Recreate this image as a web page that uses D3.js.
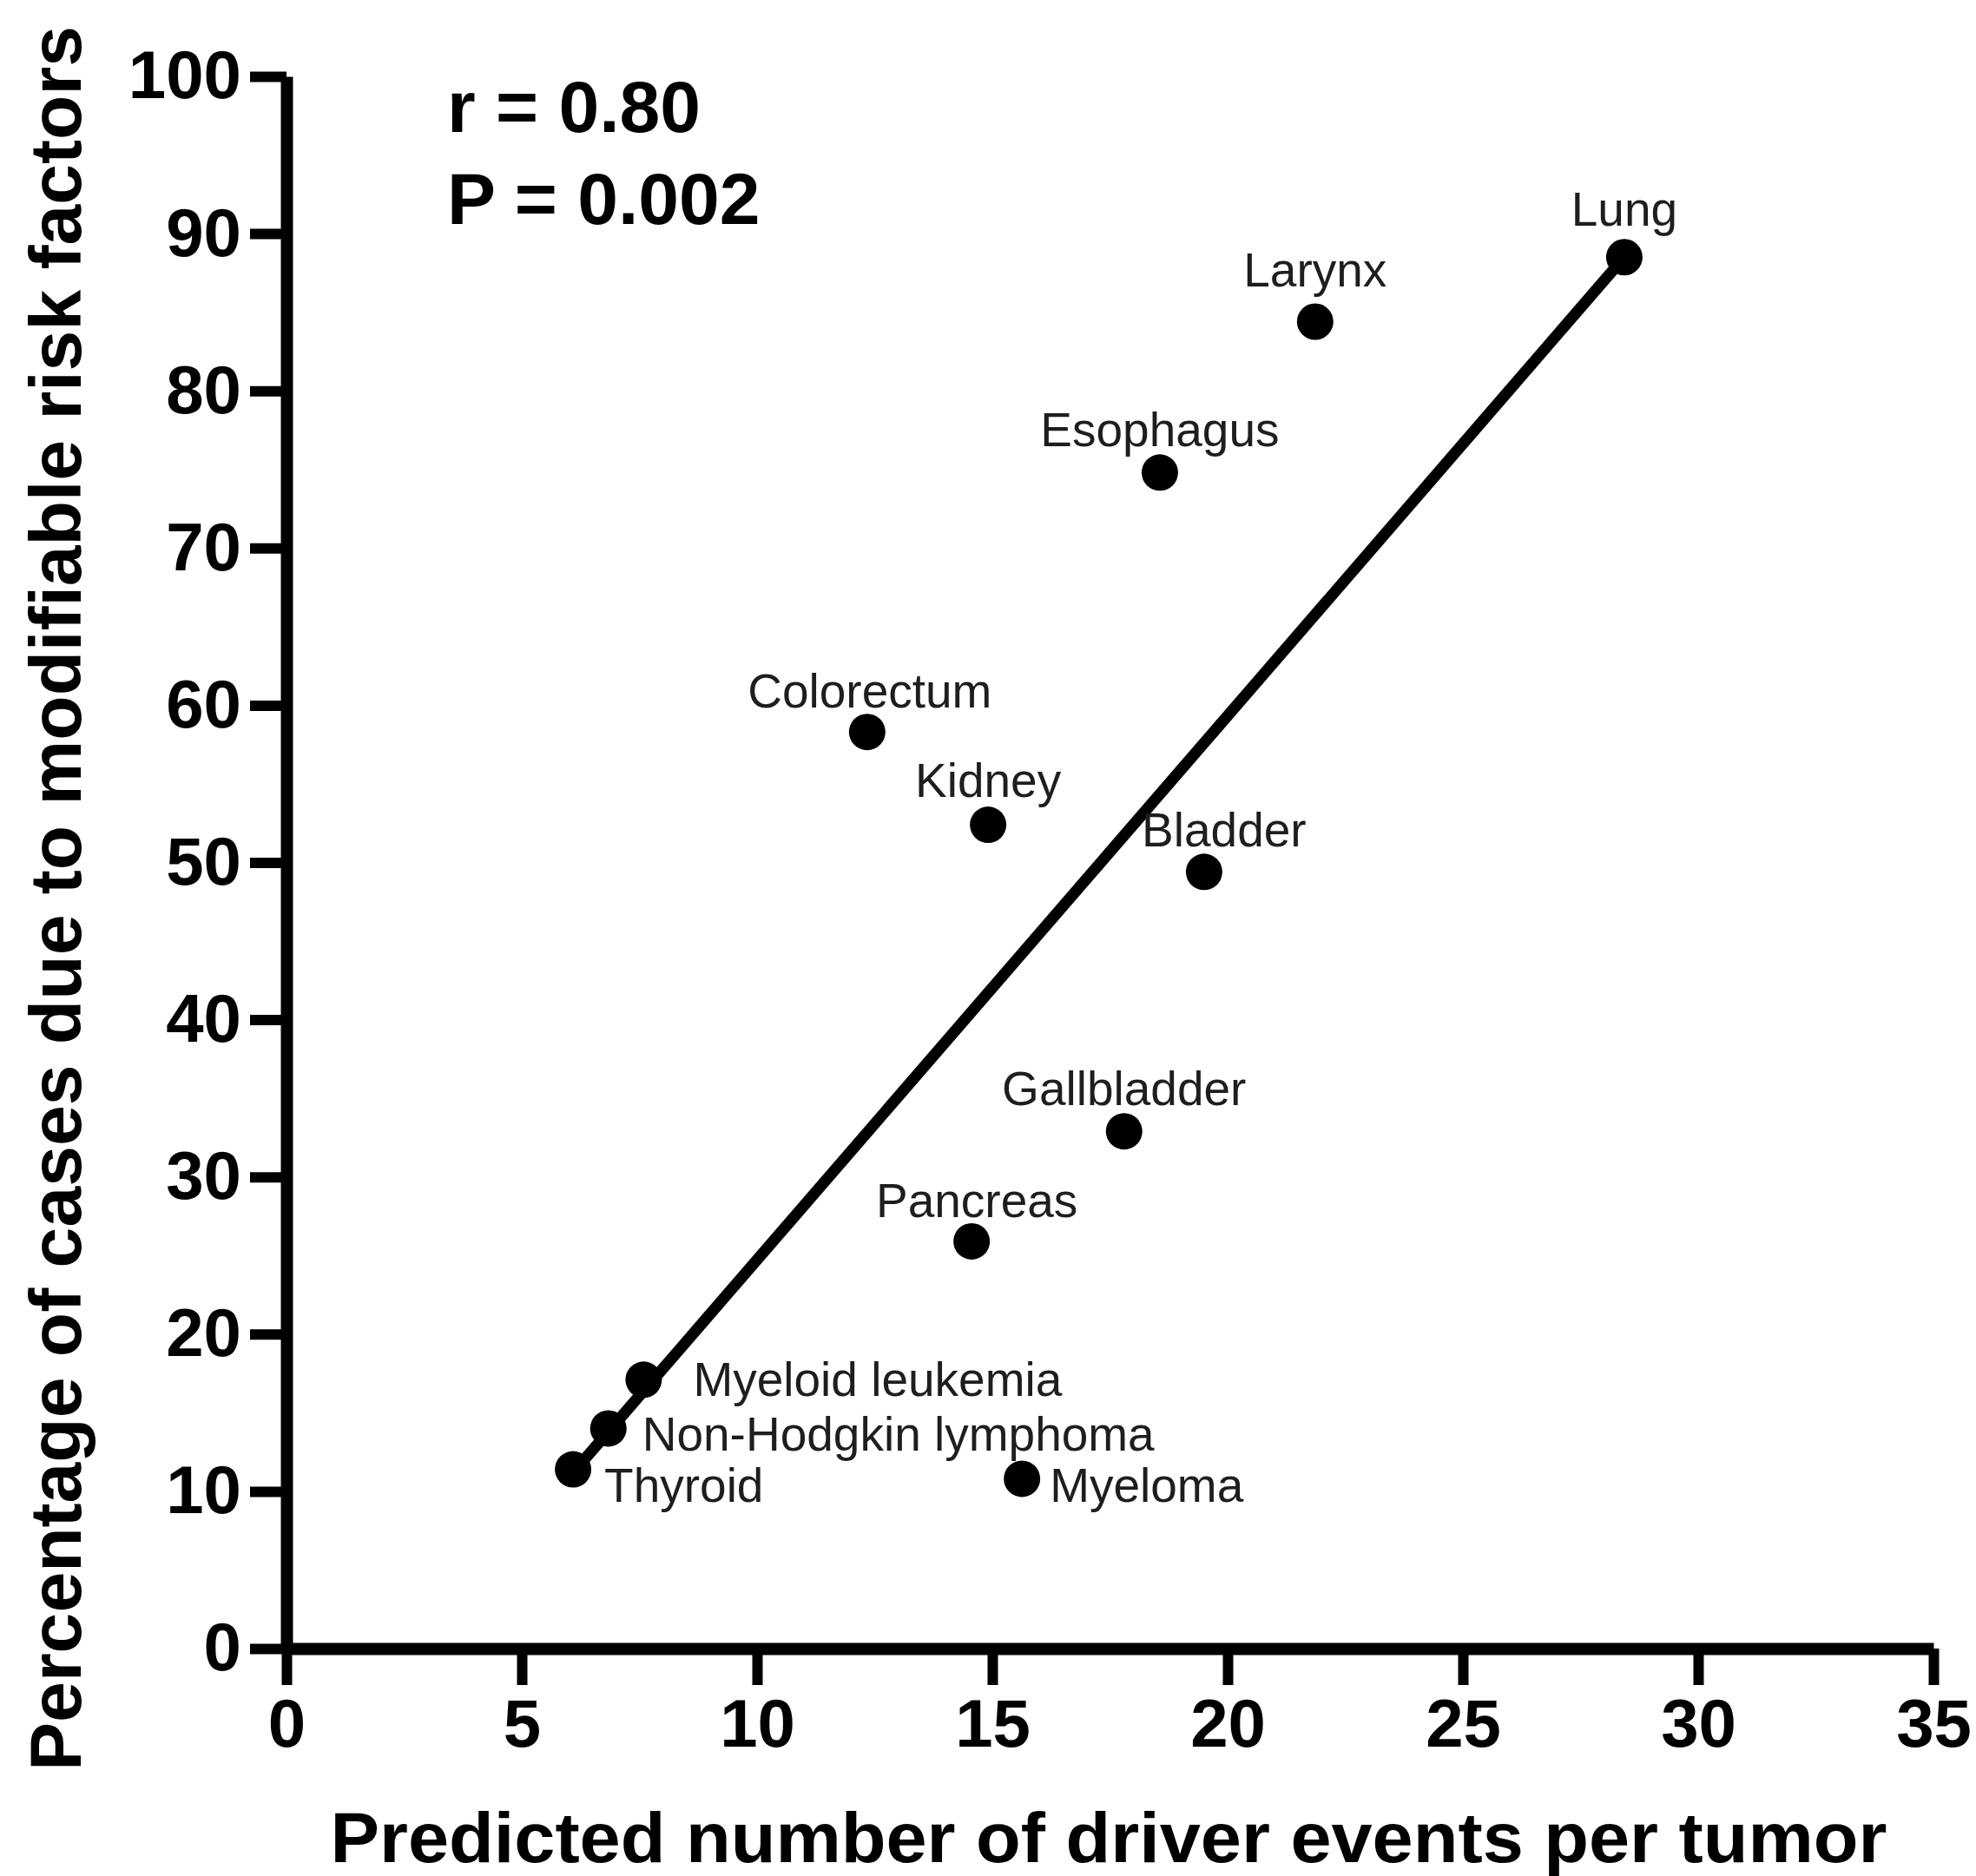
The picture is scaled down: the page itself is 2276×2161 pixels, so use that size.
<!DOCTYPE html>
<html>
<head>
<meta charset="utf-8">
<script src="https://cdn.jsdelivr.net/npm/d3@7"></script>
<style>
  body { margin: 0; background: #fff; }
  svg { display: block; }
</style>
</head>
<body>
<div id="chart"></div>
<script>
// values
const cancers = ["Lung", "Larynx", "Esophagus", "Colorectum", "Kidney", "Bladder",
  "Gallbladder", "Pancreas", "Myeloid leukemia", "Non-Hodgkin lymphoma", "Thyroid", "Myeloma"];
const driverEvents = [28.43, 21.86, 18.56, 12.34, 14.91, 19.5, 17.8, 14.56, 7.59, 6.84, 6.09, 15.63];
const pctModifiable = [88.5, 84.4, 74.8, 58.3, 52.4, 49.4, 32.9, 25.9, 17.1, 14.0, 11.4, 10.8];

// regression line end points
const fitX = [6.09, 28.43];
const fitY = [11.2, 88.5];

const xTicks = [0, 5, 10, 15, 20, 25, 30, 35];
const yTicks = [0, 10, 20, 30, 40, 50, 60, 70, 80, 90, 100];
const statsText = ["r = 0.80", "P = 0.002"];

const width = 2276;
const height = 2161;
const font = "'Liberation Sans', Arial, sans-serif";

// label placement: anchor + offset from the dot, in px
const labelPos = {
  "Lung": ["middle", 0, -36],
  "Larynx": ["middle", 0, -41],
  "Esophagus": ["middle", 0, -30],
  "Colorectum": ["middle", 3, -28],
  "Kidney": ["middle", 0, -32],
  "Bladder": ["middle", 23, -29],
  "Gallbladder": ["middle", 0, -30],
  "Pancreas": ["middle", 6, -28],
  "Myeloid leukemia": ["start", 57, 19],
  "Non-Hodgkin lymphoma": ["start", 39, 26],
  "Thyroid": ["start", 36, 37],
  "Myeloma": ["start", 32, 27]
};

const data = cancers.map((name, i) => ({ name, x: driverEvents[i], y: pctModifiable[i] }));

const x = d3.scaleLinear().domain([0, 35]).range([330, 2227]);
const y = d3.scaleLinear().domain([0, 100]).range([1899, 88]);

const svg = d3.select("#chart").append("svg")
  .attr("width", width)
  .attr("height", height)
  .style("background", "white");

// axes
const xAxis = svg.append("g")
  .attr("transform", `translate(0,${y(0)})`)
  .call(d3.axisBottom(x).tickValues(xTicks).tickFormat(d3.format("d"))
    .tickSize(42).tickSizeOuter(0).tickPadding(16));

const yAxis = svg.append("g")
  .attr("transform", `translate(${x(0)},0)`)
  .call(d3.axisLeft(y).tickValues(yTicks).tickFormat(d3.format("d"))
    .tickSize(42).tickSizeOuter(0).tickPadding(10));

[xAxis, yAxis].forEach(g => {
  g.attr("font-family", font).attr("font-size", 78).attr("font-weight", "bold");
  g.select(".domain").attr("stroke", "#000").attr("stroke-width", 14);
  g.selectAll(".tick line").attr("stroke", "#000").attr("stroke-width", 12);
  g.selectAll(".tick text").attr("fill", "#000");
});

// regression line
svg.append("line")
  .attr("x1", x(fitX[0])).attr("y1", y(fitY[0]))
  .attr("x2", x(fitX[1])).attr("y2", y(fitY[1]))
  .attr("stroke", "#000")
  .attr("stroke-width", 13);

// dots
svg.append("g").selectAll("circle")
  .data(data)
  .join("circle")
  .attr("cx", d => x(d.x))
  .attr("cy", d => y(d.y))
  .attr("r", 21)
  .attr("fill", "#000");

// dot labels
svg.append("g")
  .attr("font-family", font)
  .attr("font-size", 55)
  .attr("fill", "#1e1e1e")
  .selectAll("text")
  .data(data)
  .join("text")
  .attr("text-anchor", d => labelPos[d.name][0])
  .attr("x", d => x(d.x) + labelPos[d.name][1])
  .attr("y", d => y(d.y) + labelPos[d.name][2])
  .text(d => d.name);

// stats
svg.append("g")
  .attr("font-family", font)
  .attr("font-size", 84)
  .attr("font-weight", "bold")
  .selectAll("text")
  .data(statsText)
  .join("text")
  .attr("x", 515)
  .attr("y", (d, i) => 152 + i * 106)
  .text(d => d);

// axis titles
svg.append("text")
  .attr("x", 1277)
  .attr("y", 2145)
  .attr("text-anchor", "middle")
  .attr("font-family", font)
  .attr("font-size", 82)
  .attr("font-weight", "bold")
  .attr("textLength", 1793)
  .attr("lengthAdjust", "spacingAndGlyphs")
  .text("Predicted number of driver events per tumor");

svg.append("text")
  .attr("transform", "translate(93,1035) rotate(-90)")
  .attr("text-anchor", "middle")
  .attr("font-family", font)
  .attr("font-size", 84)
  .attr("font-weight", "bold")
  .attr("textLength", 2010)
  .attr("lengthAdjust", "spacingAndGlyphs")
  .text("Percentage of cases due to modifiable risk factors");
</script>
</body>
</html>
